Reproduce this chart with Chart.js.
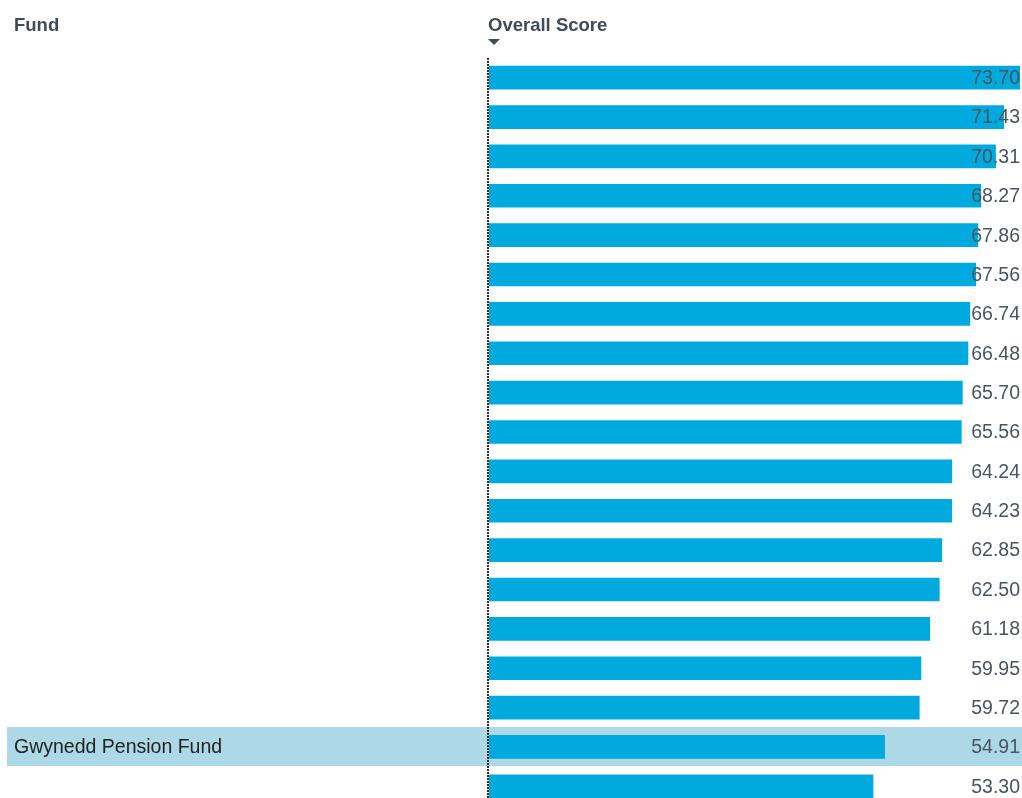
<!DOCTYPE html>
<html>
<head>
<meta charset="utf-8">
<script src="https://cdn.jsdelivr.net/npm/chart.js@4.4.0/dist/chart.umd.min.js"></script>
<style>
  html, body { margin: 0; padding: 0; background: #fff; overflow: hidden; }
  #chart { display: block; }
</style>
</head>
<body>
<canvas id="chart" width="1022" height="806"></canvas>
<script>
// fund names (only the highlighted row shows a name)
const funds = ["", "", "", "", "", "", "", "", "", "", "", "", "", "", "", "", "", "Gwynedd Pension Fund", ""];
const scores = [73.70, 71.43, 70.31, 68.27, 67.86, 67.56, 66.74, 66.48, 65.70, 65.56,
                64.24, 64.23, 62.85, 62.50, 61.18, 59.95, 59.72, 54.91, 53.30];
const highlightFund = "Gwynedd Pension Fund";
const headers = ["Fund", "Overall Score"];

const FONT = '"Liberation Sans", Arial, sans-serif';

// highlight row, headers, dotted axis line and value labels
const tablePlugin = {
  id: "table",
  beforeDatasetsDraw(chart) {
    const ctx = chart.ctx;
    const y = chart.scales.y;
    const rowH = (y.bottom - y.top) / funds.length;
    ctx.save();
    funds.forEach((f, i) => {
      if (f === highlightFund) {
        const cy = y.getPixelForValue(i);
        ctx.fillStyle = "#add8e6";
        ctx.fillRect(7, Math.floor(cy - rowH / 2), chart.width - 7, Math.round(rowH));
      }
    });
    ctx.restore();
  },
  afterDatasetsDraw(chart) {
    const ctx = chart.ctx;
    const x = chart.scales.x;
    const y = chart.scales.y;
    const left = x.getPixelForValue(0);
    ctx.save();

    // headers
    ctx.fillStyle = "#3f4b57";
    ctx.font = "bold 18.5px " + FONT;
    ctx.textBaseline = "middle";
    ctx.textAlign = "left";
    ctx.fillText(headers[0], 14, 26);
    ctx.fillText(headers[1], left - 1, 26);

    // sort triangle
    ctx.beginPath();
    ctx.moveTo(left - 1, 39);
    ctx.lineTo(left + 11, 39);
    ctx.lineTo(left + 5, 45);
    ctx.closePath();
    ctx.fill();

    // dotted axis line
    ctx.strokeStyle = "#2e2e2e";
    ctx.lineWidth = 2;
    ctx.setLineDash([2, 1]);
    ctx.beginPath();
    ctx.moveTo(left - 1, y.top);
    ctx.lineTo(left - 1, chart.height);
    ctx.stroke();
    ctx.setLineDash([]);

    // fund names and values
    ctx.font = "19.5px " + FONT;
    funds.forEach((f, i) => {
      const cy = y.getPixelForValue(i) + 1;
      if (f) {
        ctx.fillStyle = "#222";
        ctx.textAlign = "left";
        ctx.fillText(f, 14, cy);
      }
      ctx.fillStyle = "#4a545e";
      ctx.textAlign = "right";
      ctx.fillText(scores[i].toFixed(2), chart.width - 2, cy);
    });
    ctx.restore();
  }
};

new Chart(document.getElementById("chart").getContext("2d"), {
  type: "bar",
  data: {
    labels: funds,
    datasets: [{
      data: scores,
      backgroundColor: "#00aadf",
      borderWidth: 0,
      barThickness: 23
    }]
  },
  options: {
    indexAxis: "y",
    responsive: false,
    animation: false,
    devicePixelRatio: 1,
    layout: { padding: { left: 489, right: 2, top: 58, bottom: 0 } },
    scales: {
      x: { display: false, min: 0, max: 73.7 },
      y: { display: false }
    },
    plugins: {
      legend: { display: false },
      tooltip: { enabled: false }
    }
  },
  plugins: [tablePlugin]
});
</script>
</body>
</html>
